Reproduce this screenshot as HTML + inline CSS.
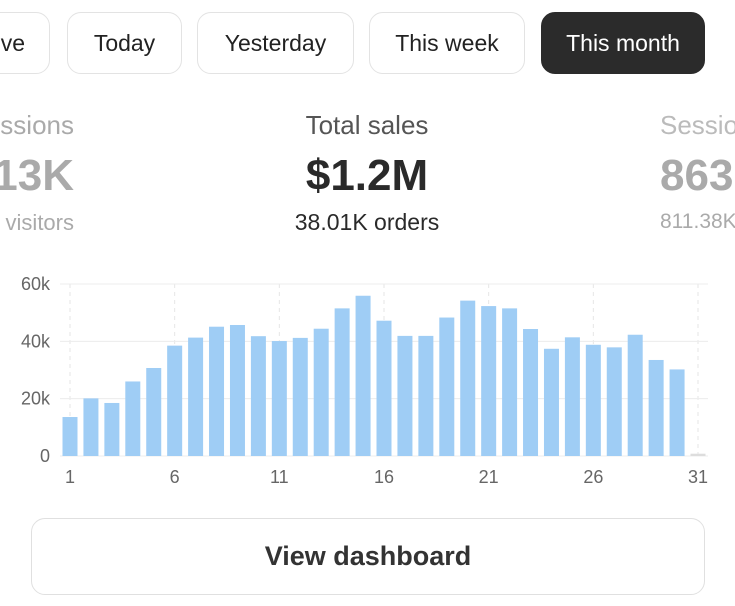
<!DOCTYPE html>
<html><head><meta charset="utf-8"><style>
body{margin:0;width:735px;height:606px;background:#fff;font-family:"Liberation Sans",sans-serif;overflow:hidden;position:relative}
#clip{position:absolute;left:0;top:0;width:735px;height:606px;overflow:hidden}
.btn{position:absolute;top:12px;height:62px;border:1.5px solid #e3e3e3;border-radius:14px;box-sizing:border-box;display:flex;align-items:center;justify-content:center;font-size:23px;color:#222}
.dark{background:#2b2b2b;color:#fff;border-color:#2b2b2b}
.t{position:absolute;white-space:nowrap;transform:translateX(-50%)}
.r{position:absolute;white-space:nowrap;right:661px;text-align:right}
.l{position:absolute;white-space:nowrap;left:660px}
</style></head><body>
<div id="clip">
<div class="btn" style="left:-60px;width:110px;justify-content:flex-end;padding-right:24px">ve</div>
<div class="btn" style="left:67px;width:115px">Today</div>
<div class="btn" style="left:197px;width:157px">Yesterday</div>
<div class="btn" style="left:369px;width:156px">This week</div>
<div class="btn dark" style="left:541px;width:164px">This month</div>

<div class="r" style="top:110px;font-size:26px;color:#aaa">Sessions</div>
<div class="r" style="top:151px;font-size:44px;font-weight:bold;color:#aaa">913K</div>
<div class="r" style="top:210px;font-size:22px;color:#aaa">visitors</div>

<div class="t" style="left:367px;top:110px;font-size:26px;color:#555">Total sales</div>
<div class="t" style="left:367px;top:151px;font-size:44px;font-weight:bold;color:#2a2a2a">$1.2M</div>
<div class="t" style="left:367px;top:209px;font-size:23px;color:#2a2a2a">38.01K orders</div>

<div class="l" style="top:110px;font-size:26px;color:#bbb">Sessions</div>
<div class="l" style="top:151px;font-size:44px;font-weight:bold;color:#aaa">863K</div>
<div class="l" style="top:210px;font-size:21px;color:#aaa">811.38K</div>

<svg id="chart" width="735" height="500" style="position:absolute;left:0;top:0"></svg>

<div style="position:absolute;left:31px;top:518px;width:674px;height:77px;border:1.5px solid #e0e0e0;border-radius:14px;box-sizing:border-box;display:flex;align-items:center;justify-content:center;font-size:27px;font-weight:bold;color:#333">View dashboard</div>
</div>
<script>
const days=[1,2,3,4,5,6,7,8,9,10,11,12,13,14,15,16,17,18,19,20,21,22,23,24,25,26,27,28,29,30,31];
const sales=[13.6,20.1,18.5,26,30.7,38.5,41.3,45.1,45.7,41.8,40.1,41.2,44.4,51.5,55.9,47.2,41.9,41.9,48.3,54.2,52.3,51.5,44.3,37.4,41.4,38.8,37.9,42.3,33.5,30.2,0.8];
const yTicks=[0,20,40,60];
const yTickLabels=["0","20k","40k","60k"];
const xTicks=[1,6,11,16,21,26,31];
const svg=document.getElementById('chart');const NS='http://www.w3.org/2000/svg';
const y0=456,yTop=284,x1=70,x31=698;
const ys=v=>y0-(v/60)*(y0-yTop);
const xs=d=>x1+(d-1)*(x31-x1)/30;
function mk(t,a){const e=document.createElementNS(NS,t);for(const k in a)e.setAttribute(k,a[k]);svg.appendChild(e);return e;}
xTicks.forEach(d=>{const l=mk('line',{x1:xs(d),x2:xs(d),y1:yTop,y2:y0,stroke:'#e6e6e6','stroke-dasharray':'4,4'});


const t=mk('text',{x:xs(d),y:483,'text-anchor':'middle','font-size':18,fill:'#666','font-family':'Liberation Sans'});t.textContent=d;

});
yTicks.forEach((v,i)=>{const l=mk('line',{x1:60,x2:708,y1:ys(v),y2:ys(v),stroke:'#ececec'});


const t=mk('text',{x:50,y:ys(v)+6,'text-anchor':'end','font-size':18,fill:'#666','font-family':'Liberation Sans'});t.textContent=yTickLabels[i];

});
days.forEach((d,i)=>{const v=sales[i];const r=mk('rect',{x:xs(d)-7.5,y:ys(v),width:15,height:y0-ys(v),fill:i===30?'#dddddd':'#9fcdf5'});

});
</script>
</body></html>
